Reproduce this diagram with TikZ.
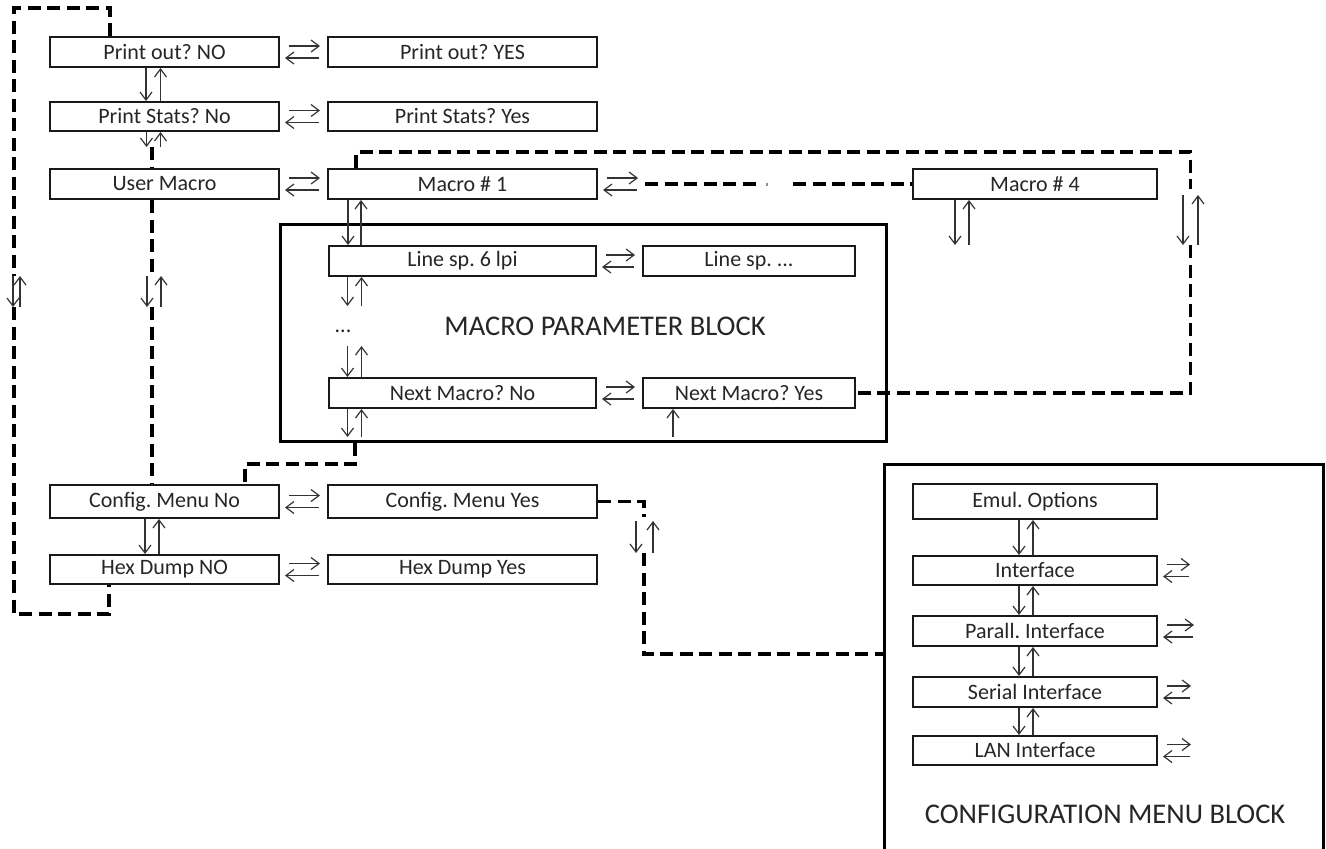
\documentclass[tikz,border=0pt]{standalone}
\usepackage{fontspec}
\setmainfont{Carlito}
\usetikzlibrary{arrows.meta}
\frenchspacing
\newcommand\udpair[4]{%
  \draw[arr] ([xshift=#3]#1) -- ([xshift=#3]#2);
  \draw[arr] ([xshift=#4]#2) -- ([xshift=#4]#1);}
\newcommand\lrpair[2]{%
  \draw[arr] ([xshift=9pt,yshift=6pt]#1) -- ([xshift=-7pt,yshift=6pt]#2);
  \draw[arr] ([xshift=-8pt,yshift=-6pt]#2) -- ([xshift=5pt,yshift=-6pt]#1);}
\begin{document}
\begin{tikzpicture}[x=1pt,y=-1pt,
  box/.style={draw=black!90, line width=2pt, inner sep=0pt, text=black!85,
    font=\fontsize{22}{26}\selectfont},
  blockbox/.style={draw=black, line width=3pt, inner sep=0pt},
  biglabel/.style={text=black!85, font=\fontsize{28.5}{33}\selectfont},
  dline/.style={line width=3.5pt, dash pattern=on 13pt off 6.5pt, black},
  arr/.style={line width=1.2pt, black!80, -{Straight Barb[length=8pt,width=12pt]}},
]
\useasboundingbox (0,0) rectangle (1326,849);
\fill[white] (0,0) rectangle (1326,849);

% blocks
\node[blockbox, minimum width=606pt, minimum height=217pt] (mblock) at (583,332.5) {};
\node[blockbox, minimum width=439pt, minimum height=420pt] (cblock) at (1103.5,674) {};
\node[biglabel] (mlabel) at (605,326) {MACRO PARAMETER BLOCK};
\node[biglabel] (clabel) at (1105,814) {CONFIGURATION MENU BLOCK};

% left column
\node[box, minimum width=229pt, minimum height=30pt] (pno)  at (164.5,52)    {Print out? NO};
\node[box, minimum width=229pt, minimum height=29pt] (psno) at (164.5,116.5) {Print Stats? No};
\node[box, minimum width=229pt, minimum height=30pt] (um)   at (164.5,184)   {User Macro};
\node[box, minimum width=229pt, minimum height=33pt] (cmno) at (164.5,501.5) {Config. Menu No};
\node[box, minimum width=229pt, minimum height=29pt] (hdno) at (164.5,569.5) {Hex Dump NO};

% middle column
\node[box, minimum width=269pt, minimum height=30pt] (pyes)  at (462.5,52)    {Print out? YES};
\node[box, minimum width=269pt, minimum height=29pt] (psyes) at (462.5,116.5) {Print Stats? Yes};
\node[box, minimum width=269pt, minimum height=30pt] (m1)    at (462.5,184)   {Macro \# 1};
\node[box, minimum width=267pt, minimum height=30pt] (ls6)   at (462.5,261)   {Line sp. 6 lpi};
\node[box, minimum width=267pt, minimum height=30pt] (nmno)  at (462.5,393)   {Next Macro? No};
\node[box, minimum width=269pt, minimum height=33pt] (cmyes) at (462.5,501.5) {Config. Menu Yes};
\node[box, minimum width=269pt, minimum height=29pt] (hdyes) at (462.5,569.5) {Hex Dump Yes};

% right of macro block
\node[box, minimum width=212pt, minimum height=30pt] (lsx)   at (749,261) {Line sp. ...};
\node[box, minimum width=212pt, minimum height=30pt] (nmyes) at (749,393) {Next Macro? Yes};
\node[box, minimum width=244pt, minimum height=30pt] (m4)    at (1035,184) {Macro \# 4};

% configuration column
\node[box, minimum width=244pt, minimum height=35pt] (emul)   at (1035,501.5) {Emul. Options};
\node[box, minimum width=244pt, minimum height=29pt] (iface)  at (1035,570.5) {Interface};
\node[box, minimum width=244pt, minimum height=30pt] (parall) at (1035,631)   {Parall. Interface};
\node[box, minimum width=244pt, minimum height=30pt] (serial) at (1035,692)   {Serial Interface};
\node[box, minimum width=244pt, minimum height=29pt] (lan)    at (1035,750.5) {LAN Interface};

\node[box, draw=none] (dots) at (343,331) {...};

% free-end coordinates
\coordinate (c1) at (164.5,147);
\coordinate (c2) at (462.5,306);
\coordinate (c3) at (462.5,346);
\coordinate (c4) at (462.5,437);
\coordinate (c5) at (749,437);
\coordinate (c6) at (1035,245);
\coordinate (c7) at (1190.5,195);
\coordinate (c8) at (1190.5,245);
\coordinate (c9) at (14,276);
\coordinate (c10) at (14,307);
\coordinate (c11) at (152,276);
\coordinate (c12) at (152,307);
\coordinate (c13) at (644,521);
\coordinate (c14) at (644,553);
\coordinate (c15) at (645,184);
\coordinate (gapL) at (762,184);
\coordinate (gapR) at (793,184);
\coordinate (r1) at (1197,570.5);
\coordinate (r2) at (1201,631);
\coordinate (r3) at (1198,692);
\coordinate (r4) at (1198,750.5);

% dashed connectors
\draw[dline] ([xshift=-54.5pt]pno.north) |- (14,8) -- (c9);
\draw[dline] (c10) -- (14,614) -| ([xshift=-55.5pt]hdno.south);
\draw[dline] ([xshift=-12.5pt]c1) -- ([xshift=-12.5pt]um.north);
\draw[dline] ([xshift=-12.5pt]um.south) -- (c11);
\draw[dline] (c12) -- ([xshift=-12.5pt]cmno.north);
\draw[dline] ([xshift=-106.5pt]m1.north) |- (1190.5,152) -- ([yshift=6pt]c7);
\draw[dline] (c8) |- (nmyes.east);
\draw[dline] (c15) -- (gapL);
\draw[dline] (gapR) -- (m4.west);
\fill[black!45] (766,182.5) rectangle (768,185.5);
\draw[dline] ([xshift=-228pt]mblock.south) -- (355,464) -| ([xshift=80.5pt]cmno.north);
\draw[dline] (cmyes.east) -| ([yshift=4pt]c13);
\draw[dline] (c14) |- ([yshift=20pt]cblock.west);

% vertical arrow pairs
\udpair{pno.south}{psno.north}{-18.5pt}{-4pt}
\udpair{psno.south}{c1}{-18pt}{-4pt}
\udpair{cmno.south}{hdno.north}{-19.5pt}{-5.5pt}
\udpair{m1.south}{ls6.north}{-114.5pt}{-101.5pt}
\udpair{ls6.south}{c2}{-115pt}{-101pt}
\udpair{c3}{nmno.north}{-115pt}{-101pt}
\udpair{nmno.south}{c4}{-115pt}{-101pt}
\draw[arr] ([xshift=-76pt]c5) -- ([xshift=-76pt]nmyes.south);
\udpair{m4.south}{c6}{-80pt}{-66pt}
\udpair{c7}{c8}{-7.5pt}{7.5pt}
\udpair{c9}{c10}{-1pt}{6pt}
\udpair{c11}{c12}{-5pt}{9pt}
\udpair{c13}{c14}{-8pt}{9pt}
\udpair{emul.south}{iface.north}{-16pt}{-2pt}
\udpair{iface.south}{parall.north}{-16pt}{-2pt}
\udpair{parall.south}{serial.north}{-16pt}{-2pt}
\udpair{serial.south}{lan.north}{-16pt}{-2pt}

% horizontal arrow pairs
\lrpair{pno.east}{pyes.west}
\lrpair{psno.east}{psyes.west}
\lrpair{um.east}{m1.west}
\lrpair{cmno.east}{cmyes.west}
\lrpair{hdno.east}{hdyes.west}
\lrpair{m1.east}{c15}
\lrpair{ls6.east}{lsx.west}
\lrpair{nmno.east}{nmyes.west}
\lrpair{iface.east}{r1}
\lrpair{parall.east}{r2}
\lrpair{serial.east}{r3}
\lrpair{lan.east}{r4}
\end{tikzpicture}
\end{document}
